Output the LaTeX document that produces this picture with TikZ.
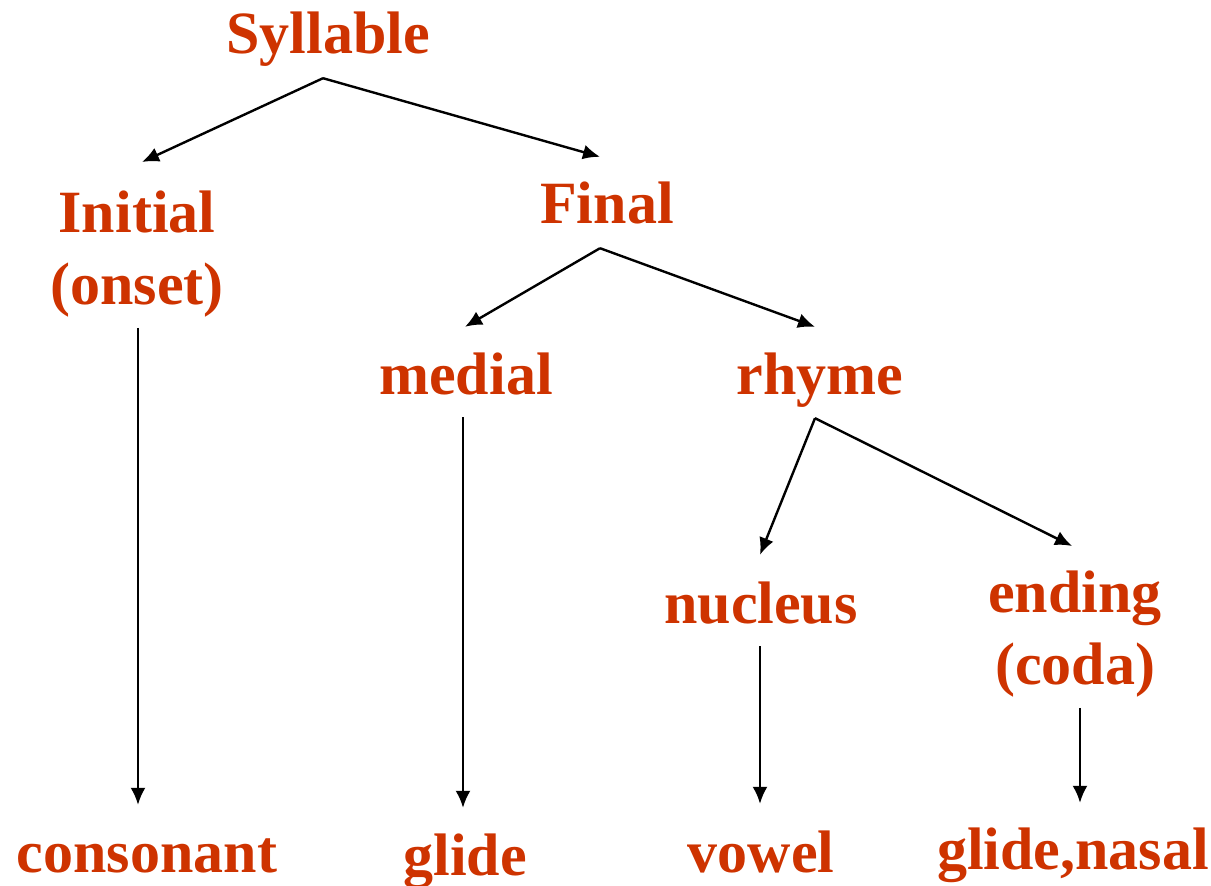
\documentclass[tikz,border=0pt]{standalone}
\usepackage{fontspec}
\setmainfont{Liberation Serif}
\usetikzlibrary{arrows.meta}
\definecolor{labelred}{RGB}{206,51,0}
\begin{document}
\begin{tikzpicture}[
	x=1pt, y=-1pt,
	word/.style = {text=labelred, font=\fontsize{60}{72}\selectfont\bfseries, inner xsep=4pt, inner ysep=10pt},
	single/.style = {word, anchor=base, text height=42pt, text depth=13pt},
	double/.style = {word, anchor=north, align=center},
	link/.style = {draw, line width=2.4pt, -{Latex[length=17pt,width=15pt]}},
	]
	\useasboundingbox (0,0) rectangle (1211,886);
	% tree levels
	\node[single] (syl) at (328,53) {Syllable};
	\node[double] (init) at (137,181) {Initial\\(onset)};
	\node[single] (fin) at (607,223) {Final};
	\node[single] (med) at (466,394) {medial};
	\node[single] (rhy) at (820,394) {rhyme};
	\node[single] (nuc) at (761,623) {nucleus};
	\node[double] (end) at (1075,561) {ending\\(coda)};
	% bottom row
	\node[single] (cons) at (147,872) {consonant};
	\node[single] (gli) at (465,875) {glide};
	\node[single] (vow) at (761,872) {vowel};
	\node[single] (gln) at (1073,869) {glide,nasal};
	% connectors
	\draw[link] ([xshift=-5pt,yshift=-2pt]syl.south) -- ([xshift=5pt,yshift=19pt]init.north);
	\draw[link] ([xshift=-5pt,yshift=-2pt]syl.south) -- ([xshift=-7pt,yshift=14pt]fin.north);
	\draw[link] ([xshift=-7pt,yshift=-2pt]fin.south) -- ([xshift=-1pt,yshift=15pt]med.north);
	\draw[link] ([xshift=-7pt,yshift=-2pt]fin.south) -- ([xshift=-5pt,yshift=15pt]rhy.north);
	\draw[link] ([xshift=-5pt,yshift=-1pt]rhy.south) -- ([xshift=-1pt,yshift=16pt]nuc.north);
	\draw[link] ([xshift=-5pt,yshift=-1pt]rhy.south) -- ([xshift=-3pt,yshift=15pt]end.north);
	\draw[link] ([xshift=1pt]init.south) -- ([xshift=1pt,yshift=15pt]init.south |- cons.north);
	\draw[link] ([xshift=-3pt]med.south) -- ([xshift=-3pt,yshift=15pt]med.south |- gli.north);
	\draw[link] ([xshift=-1pt]nuc.south) -- ([xshift=-1pt,yshift=16pt]nuc.south |- vow.north);
	\draw[link] ([xshift=5pt]end.south) -- ([xshift=5pt,yshift=14pt]end.south |- gln.north);
\end{tikzpicture}
\end{document}
